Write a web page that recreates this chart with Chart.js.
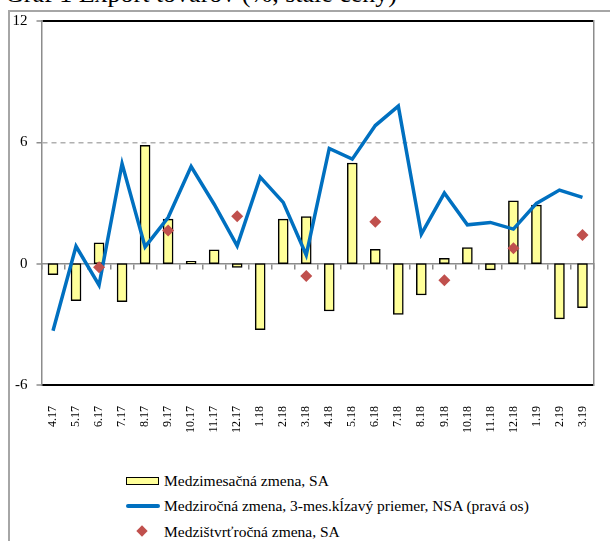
<!DOCTYPE html>
<html>
<head>
<meta charset="utf-8">
<script src="https://cdn.jsdelivr.net/npm/chart.js@4.4.1/dist/chart.umd.min.js"></script>
<style>
body { margin: 0; width: 610px; height: 541px; overflow: hidden; background: #fff; position: relative;
       font-family: "Liberation Serif", "Times New Roman", serif; color: #000; }
#frame { position: absolute; left: 8px; top: 10px; width: 620px; height: 560px;
         border-left: 2px solid #a6a6a6; border-top: 2px solid #a6a6a6; }
#title { position: absolute; left: 5px; top: -19px; font-size: 26px; line-height: 26px; white-space: nowrap; }
#wrap { position: absolute; left: 0; top: 0; width: 610px; height: 460px; }
.lg { position: absolute; left: 126px; height: 20px; line-height: 20px; font-size: 15.5px; white-space: nowrap; }
.lg .sym { position: absolute; left: 0; }
.lg span.t { position: absolute; left: 38px; top: 0; }
</style>
</head>
<body>
<div id="frame"></div>
<div id="title">Graf 1 Export tovarov (%, stále ceny)</div>
<div id="wrap"><canvas id="chart" width="610" height="460"></canvas></div>

<div class="lg" style="top:471px">
  <div class="sym" style="top:6px;width:31px;height:6px;background:#ffff99;border:1.5px solid #000"></div>
  <span class="t">Medzimesačná zmena, SA</span>
</div>
<div class="lg" style="top:496px">
  <div class="sym" style="top:8px;width:34px;height:3.5px;background:#0070c0;border-radius:2px"></div>
  <span class="t">Medziročná zmena, 3-mes.kĺzavý priemer, NSA (pravá os)</span>
</div>
<div class="lg" style="top:522px">
  <div class="sym" style="left:12px;top:5px;width:8px;height:8px;background:#c0504d;transform:rotate(45deg)"></div>
  <span class="t">Medzištvrťročná zmena, SA</span>
</div>

<script>
const months = ["4.17", "5.17", "6.17", "7.17", "8.17", "9.17", "10.17", "11.17", "12.17",
                "1.18", "2.18", "3.18", "4.18", "5.18", "6.18", "7.18", "8.18", "9.18",
                "10.18", "11.18", "12.18", "1.19", "2.19", "3.19"];

// medzimesacna zmena, SA (stlpce)
const momSA = [-0.55, -1.83, 1.03, -1.88, 5.85, 2.2, 0.12, 0.69, -0.18,
               -3.27, 2.2, 2.33, -2.34, 4.98, 0.71, -2.51, -1.55, 0.27,
               0.8, -0.31, 3.11, 2.9, -2.73, -2.18];

// medzirocna zmena, 3-mes. klzavy priemer, NSA (ciara)
const yoyNSA = [-3.32, 0.86, -1.06, 4.94, 0.83, 2.28, 4.8, 2.94, 0.88,
                4.28, 3.03, 0.43, 5.7, 5.17, 6.83, 7.79, 1.46, 3.49,
                1.92, 2.04, 1.71, 2.98, 3.64, 3.28];

// medzistvrtrocna zmena, SA (kosostvorce)
const qoqSA = [null, null, -0.18, null, null, 1.64, null, null, 2.35,
               null, null, -0.61, null, null, 2.07, null, null, -0.82,
               null, null, 0.76, null, null, 1.42];

const yTicks = [-6, 0, 6, 12];

const serif = '"Liberation Serif", "Times New Roman", serif';
const axisGray = "#8c8c8c";

/* ---------- GRID STYLE PER TICK ---------- */
function gridColor(ctx) {
    const v = ctx.tick ? ctx.tick.value : null;
    if (v === 12 || v === -6) return "#000";
    if (v === 6) return "#b0b0b0";
    return "rgba(0,0,0,0)";
}

function gridWidth(ctx) {
    const v = ctx.tick ? ctx.tick.value : null;
    if (v === 12 || v === -6) return 2;
    if (v === 6) return 1.5;
    return 0;
}

new Chart(document.getElementById("chart"), {
    data: {
        labels: months,
        datasets: [
            {
                type: "line",
                label: "Medzištvrťročná zmena, SA",
                data: qoqSA,
                xAxisID: "x",
                yAxisID: "y",
                showLine: false,
                pointStyle: "rectRot",
                pointRadius: 6,
                pointBackgroundColor: "#c0504d",
                pointBorderWidth: 0,
                order: 0
            },
            {
                type: "line",
                label: "Medziročná zmena, 3-mes.kĺzavý priemer, NSA (pravá os)",
                data: yoyNSA,
                xAxisID: "x",
                yAxisID: "y1",
                borderColor: "#0070c0",
                borderWidth: 3.5,
                pointRadius: 0,
                tension: 0,
                fill: false,
                order: 1
            },
            {
                type: "bar",
                label: "Medzimesačná zmena, SA",
                data: momSA,
                xAxisID: "x",
                yAxisID: "y",
                backgroundColor: "#ffff99",
                borderColor: "#000",
                borderWidth: 1.5,
                borderSkipped: false,
                barThickness: 10,
                order: 2
            }
        ]
    },
    options: {
        responsive: false,
        animation: false,
        layout: { padding: { top: 21, left: 0, right: 3, bottom: 0 } },
        plugins: {
            legend: { display: false },
            tooltip: { enabled: false }
        },
        scales: {
            x: {
                type: "category",
                offset: true,
                grid: { display: false },
                border: { display: true, color: "#000", width: 2 },
                ticks: {
                    autoSkip: false,
                    maxRotation: 90,
                    minRotation: 90,
                    padding: 13,
                    color: "#000",
                    font: { family: serif, size: 12 }
                },
                afterFit: s => { s.height = 75; }
            },
            x0: {
                type: "category",
                position: { y: 0 },
                offset: true,
                grid: {
                    display: true,
                    offset: true,
                    drawOnChartArea: false,
                    drawTicks: true,
                    tickLength: 5,
                    color: axisGray,
                    lineWidth: 1.5
                },
                border: { display: true, color: axisGray, width: 1.5 },
                ticks: { display: false }
            },
            y: {
                min: -6,
                max: 12,
                afterBuildTicks: s => { s.ticks = yTicks.map(v => ({ value: v })); },
                grid: {
                    color: gridColor,
                    lineWidth: gridWidth,
                    drawTicks: true,
                    tickLength: 5,
                    tickColor: axisGray,
                    tickWidth: 1.5
                },
                border: {
                    display: true,
                    color: axisGray,
                    width: 1.5,
                    dash: ctx => (ctx.tick && ctx.tick.value === 6 ? [5, 4] : [])
                },
                ticks: {
                    padding: 9,
                    color: "#000",
                    font: { family: serif, size: 15 }
                },
                afterFit: s => { s.width = 41.5; }
            },
            y1: {
                position: "right",
                min: -6,
                max: 12,
                grid: { drawOnChartArea: false, drawTicks: false },
                border: { display: true, color: axisGray, width: 1.5 },
                ticks: { display: false },
                afterFit: s => { s.width = 0; }
            }
        }
    }
});
</script>
</body>
</html>
